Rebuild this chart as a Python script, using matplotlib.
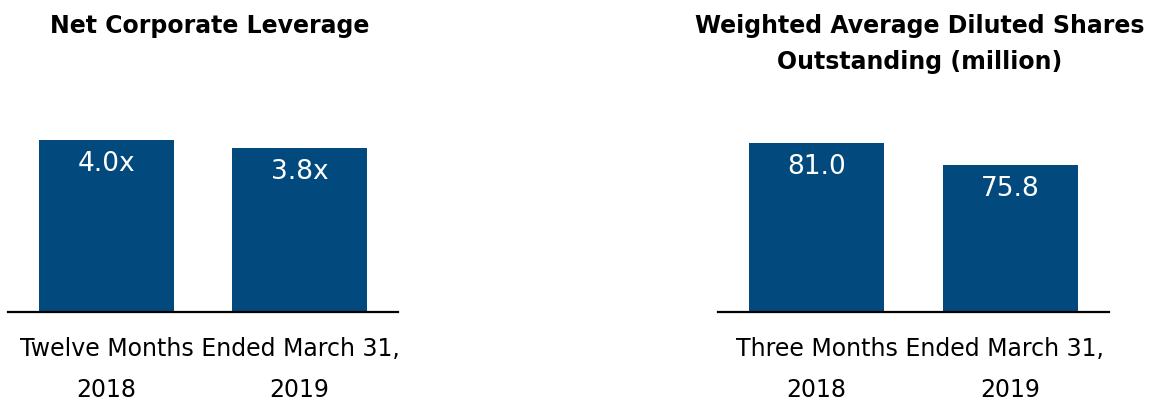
import matplotlib.pyplot as plt
from matplotlib.transforms import blended_transform_factory

# データ
years = ["2018", "2019"]
leverage = [4.0, 3.8]
leverage_labels = ["4.0x", "3.8x"]
shares = [81.0, 75.8]
shares_labels = ["81.0", "75.8"]

titles = ["Net Corporate Leverage", "Weighted Average Diluted Shares\nOutstanding (million)"]
periods = ["Twelve Months Ended March 31,", "Three Months Ended March 31,"]

bar_color = "#024a7e"
W, H = 1155, 410

plt.rcParams['font.family'] = ['DejaVu Sans']

fig = plt.figure(figsize=(W / 100, H / 100), dpi=100)

def px_axes(x0, x1, y_top, y_bot):
    return fig.add_axes([x0 / W, 1 - y_bot / H, (x1 - x0) / W, (y_bot - y_top) / H])

ax1 = px_axes(8, 398, 100, 313)
ax2 = px_axes(718, 1109, 100, 313)

panels = [
    (ax1, leverage, leverage_labels, (0, 4.95), titles[0], periods[0], 210, 26),
    (ax2, shares, shares_labels, (41, 91.3), titles[1], periods[1], 920, 44),
]

for ax, vals, labels, ylim, title, period, tx, ty in panels:
    x = list(range(len(vals)))
    bars = ax.bar(x, vals, width=0.70, color=bar_color, edgecolor="none")
    ax.set_ylim(*ylim)
    ax.set_xlim(-0.51, 1.51)
    for b, lab in zip(bars, labels):
        ax.annotate(lab, (b.get_x() + b.get_width() / 2, b.get_height()),
                    xytext=(0, -23), textcoords="offset pixels",
                    ha="center", va="center", color="white", fontsize=19)
    for s in ["top", "right", "left"]:
        ax.spines[s].set_visible(False)
    ax.spines["bottom"].set_linewidth(1.6)
    ax.spines["bottom"].set_color("black")
    ax.set_yticks([])
    ax.set_xticks(x)
    ax.set_xticklabels(years, fontsize=17)
    ax.tick_params(axis="x", length=0, pad=47)
    ax.patch.set_alpha(0)

    fig.text(tx / W, 1 - 349 / H, period, ha="center", va="center", fontsize=17)
    fig.text(tx / W, 1 - ty / H, title,
             ha="center", va="center", fontsize=17, fontweight="bold", linespacing=1.6)

fig.savefig("out.png", dpi=100)
